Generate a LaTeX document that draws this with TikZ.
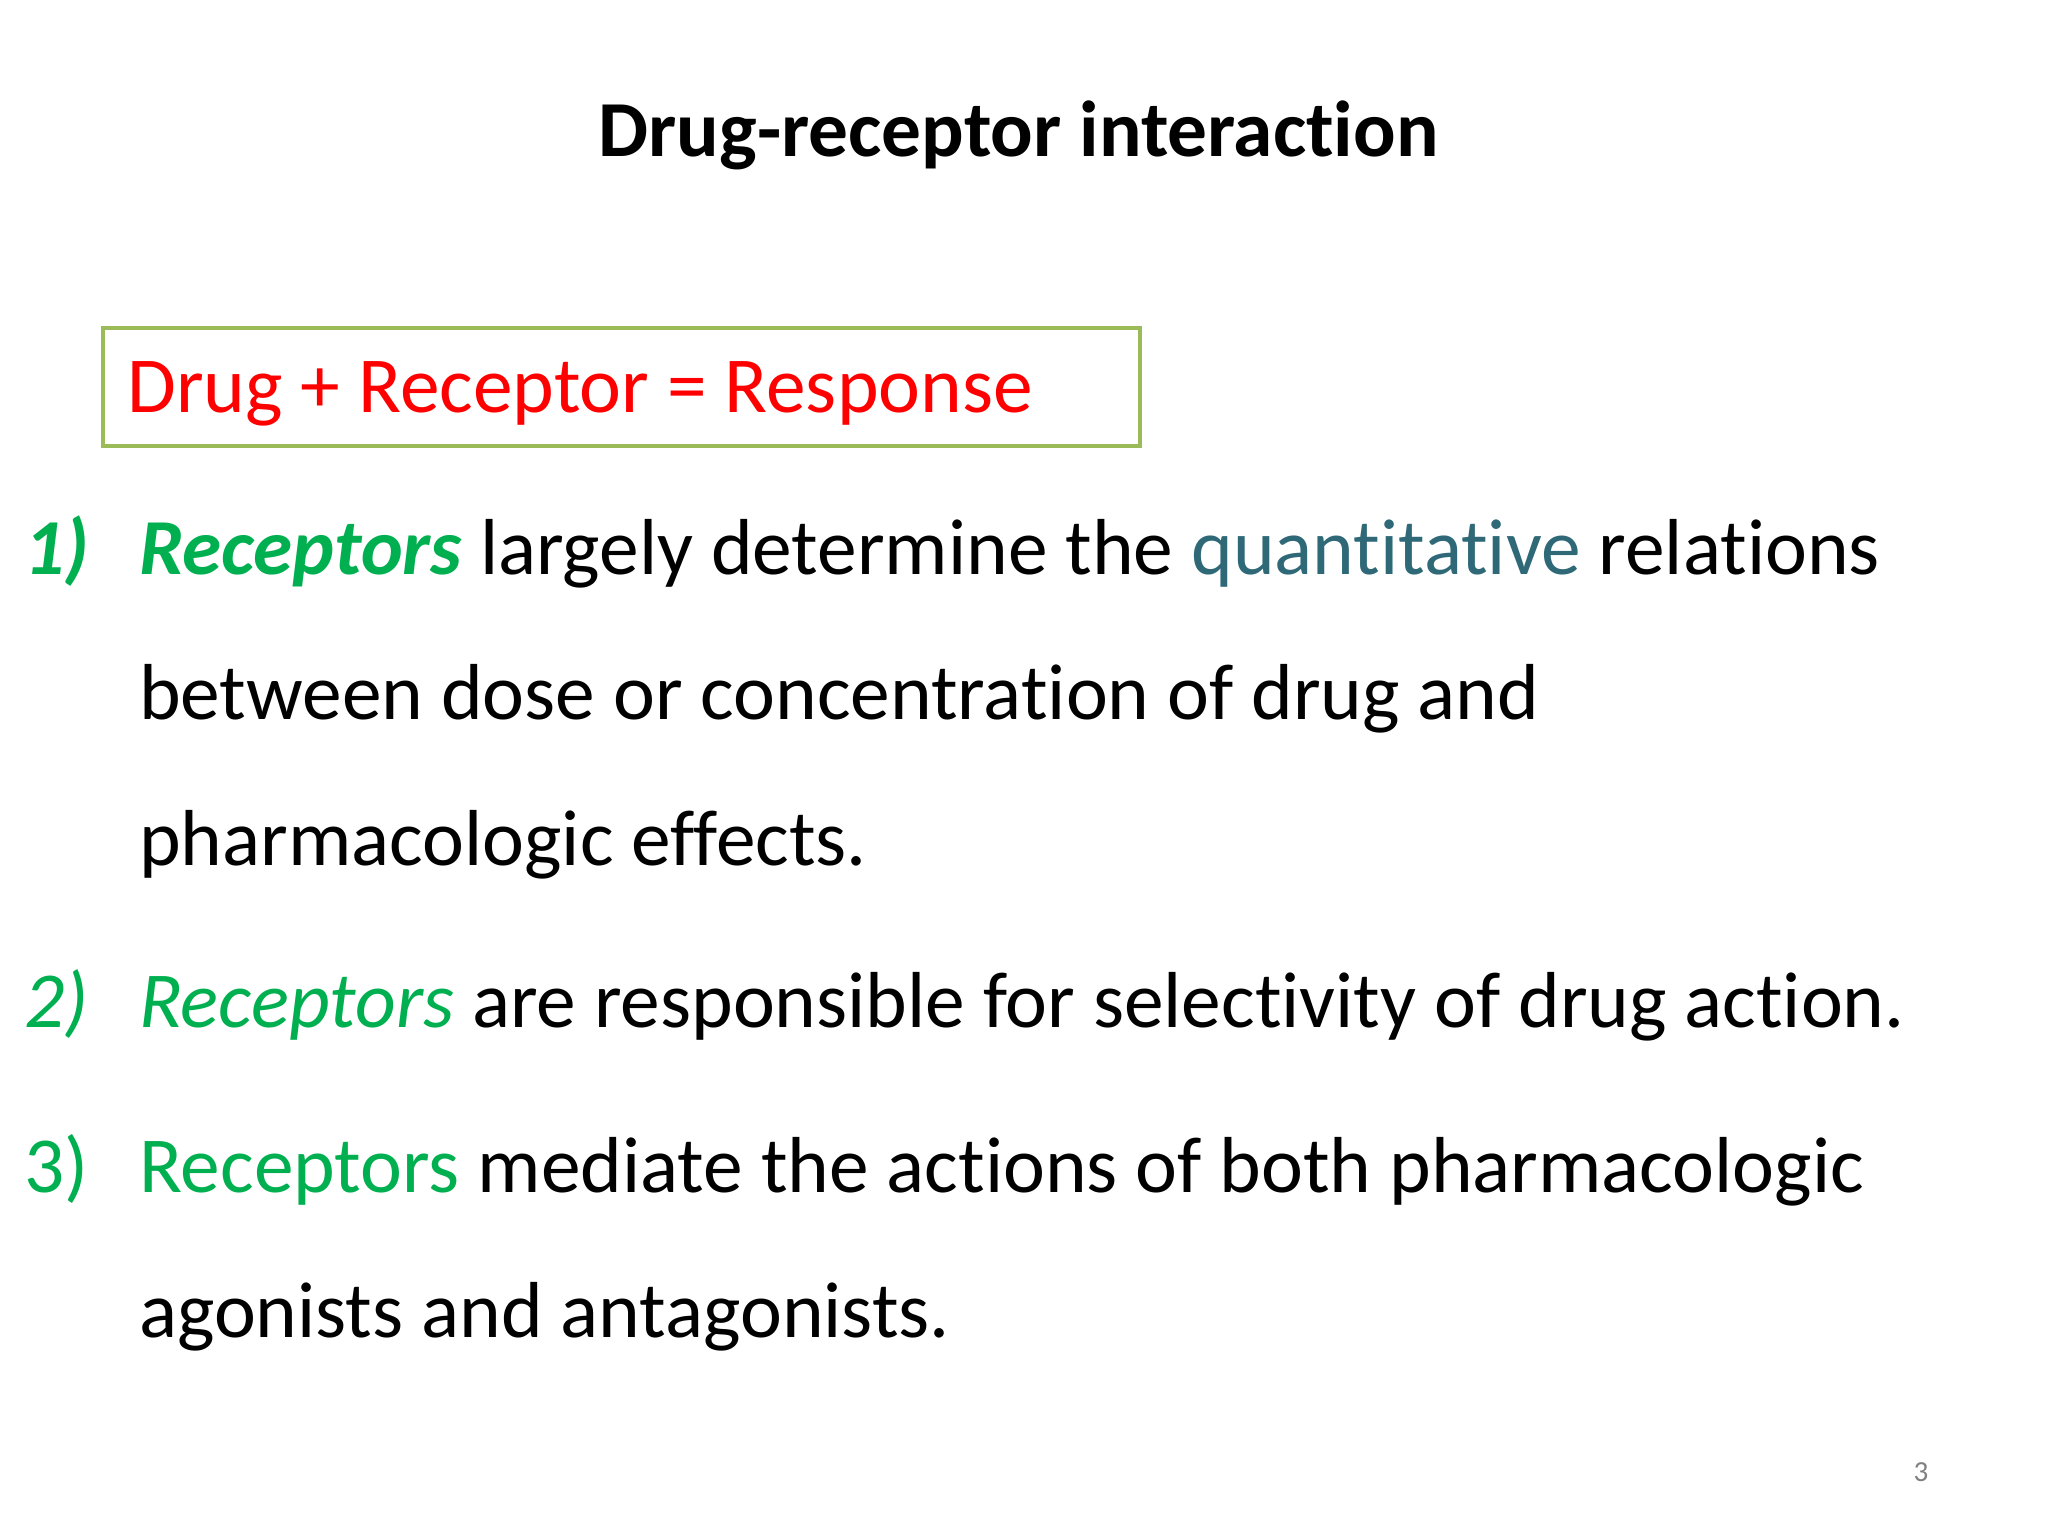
\documentclass[tikz,border=0pt]{standalone}
\usepackage{fontspec}
\setmainfont{Carlito}[RawFeature=-liga]
\definecolor{gr}{HTML}{00B050}
\definecolor{tl}{HTML}{2F6978}
\definecolor{bx}{HTML}{9BBB59}
\definecolor{rd}{HTML}{FF0000}
\begin{document}
\begin{tikzpicture}[x=1pt,y=-1pt,
  txt/.style={anchor=base west,inner sep=0pt,font=\fontsize{60}{62}\selectfont},
  num/.style={txt,text=gr}]
\useasboundingbox[fill=white] (0,0) rectangle (1548,1161);
\node[anchor=base,inner sep=0pt,font=\fontsize{60}{62}\selectfont\bfseries] (title) at (770,118) {Drug-receptor interaction};
\draw[bx,line width=3pt] (78,248) rectangle (862,337);
\node[txt,text=rd] (eq) at (96,312) {Drug + Receptor = Response};
\node[num,font=\fontsize{60}{62}\selectfont\bfseries\itshape] (n1) at (18,434) {1)};
\node[txt] (l1) at (105,434) {\textcolor{gr}{\bfseries\itshape Receptors} largely determine the \textcolor{tl}{quantitative} relations};
\node[txt] (l2) at (105,544) {between dose or concentration of drug and};
\node[txt] (l3) at (105,654) {pharmacologic effects.};
\node[num,font=\fontsize{60}{62}\selectfont\itshape] (n2) at (18,777) {2)};
\node[txt] (l4) at (105,777) {\textcolor{gr}{\itshape Receptors} are responsible for selectivity of drug action.};
\node[num] (n3) at (18,901) {3)};
\node[txt] (l5) at (105,901) {\textcolor{gr}{Receptors} mediate the actions of both pharmacologic};
\node[txt] (l6) at (105,1011) {agonists and antagonists.};
\node[anchor=base,inner sep=0pt,text=gray,font=\fontsize{22}{24}\selectfont] (pg) at (1452,1120) {3};
\end{tikzpicture}
\end{document}
